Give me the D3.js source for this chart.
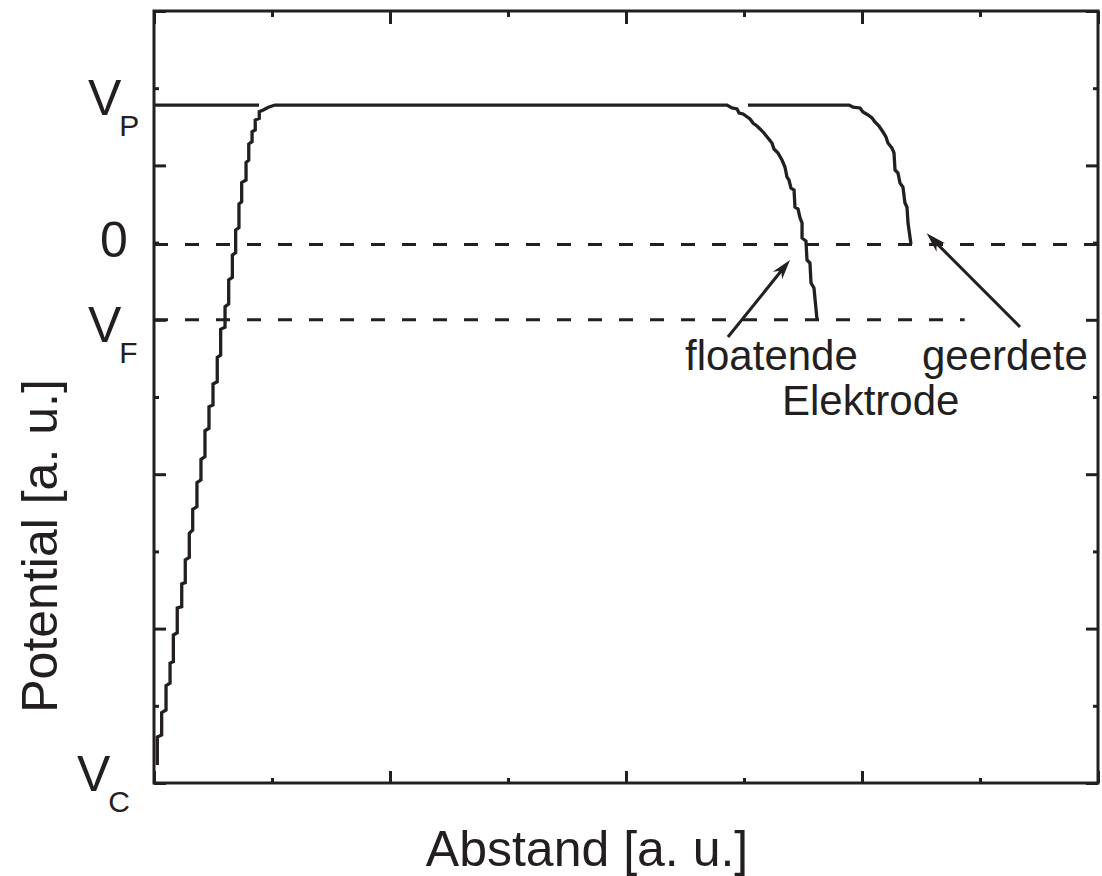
<!DOCTYPE html>
<html><head><meta charset="utf-8">
<script src="https://cdn.jsdelivr.net/npm/d3@7"></script>
<style>body{margin:0;background:#fff} svg{display:block}</style>
</head><body><svg id="c" width="1102" height="876"></svg>
<script>
// ---------- data (arbitrary units) ----------
const xTickValues = [0, 1, 2, 3, 4, 5, 6, 7, 8];
const yTickValues = [0, 1, 2, 3, 4, 5, 6, 7, 8, 9, 10];

// plasma potential profile: rising sheath, plateau, floating electrode sheath
const profileX = [0.028,0.028,0.065,0.065,0.102,0.102,0.136,0.136,0.164,0.164,0.197,0.197,0.235,0.235,0.265,0.265,0.299,0.299,0.328,0.328,0.364,0.364,0.398,0.398,0.432,0.432,0.466,0.466,0.500,0.500,0.536,0.536,0.565,0.565,0.602,0.602,0.633,0.633,0.664,0.664,0.692,0.692,0.720,0.720,0.743,0.743,0.780,0.780,0.803,0.803,0.831,0.831,0.858,0.858,0.892,0.892,0.926,0.969,1.025,
  4.856,4.898,4.941,4.958,4.992,5.051,5.076,5.110,5.136,5.169,5.203,5.237,5.254,5.288,5.322,5.347,5.364,5.381,5.398,5.424,5.432,5.458,5.475,5.492,5.492,5.525,5.534,5.559,5.568,5.593,5.619];
const profileY = [0.233,0.596,0.622,0.911,0.946,1.260,1.295,1.554,1.571,1.917,1.947,2.267,2.284,2.578,2.595,2.889,2.924,3.234,3.277,3.545,3.579,3.890,3.925,4.193,4.227,4.563,4.595,4.874,4.896,5.168,5.198,5.514,5.544,5.877,5.903,6.170,6.205,6.516,6.550,6.839,6.869,7.163,7.193,7.500,7.530,7.776,7.811,8.035,8.070,8.277,8.307,8.437,8.458,8.588,8.610,8.696,8.718,8.753,8.782,
  8.782,8.744,8.731,8.679,8.666,8.601,8.549,8.510,8.472,8.420,8.355,8.290,8.212,8.161,8.070,7.979,7.850,7.811,7.707,7.681,7.461,7.435,7.319,7.254,7.060,7.021,6.775,6.736,6.477,6.412,6.000];

// grounded electrode sheath
const groundedX = [5.034,5.890,5.924,5.983,6.008,6.051,6.085,6.110,6.144,6.178,6.203,6.220,6.254,6.271,6.280,6.305,6.322,6.347,6.364,6.381,6.390,6.415];
const groundedY = [8.782,8.782,8.756,8.744,8.692,8.653,8.614,8.562,8.510,8.433,8.368,8.290,8.225,8.161,7.940,7.902,7.772,7.720,7.513,7.461,7.254,6.982];

// short plateau at the left edge
const plateauX = [0, 0.89];
const plateauY = [8.782, 8.782];

// dashed reference levels (0 and V_F)
const levelValues = [6.975, 6.0];
const levelEndX = [8, 6.87];

// y tick labels
const yLabelMain = ["V", "0", "V", "V"];
const yLabelSub = ["P", "", "F", "C"];
const yLabelValues = [8.782, 6.975, 6.0, 0.233];

// annotations
const annotationTexts = ["floatende", "Elektrode", "geerdete"];
const annotationX = [4.5, 5.322, 6.508];
const annotationY = [5.35, 4.767, 5.35];
const arrowFromX = [4.864, 7.339], arrowFromY = [5.777, 5.907];
const arrowToX = [5.390, 6.548], arrowToY = [6.775, 7.120];

const xTitle = "Abstand [a. u.]";
const yTitle = "Potential [a. u.]";

// ---------- layout ----------
const W = 1102, H = 876;
const m = {left: 154, top: 11, right: 4, bottom: 93};
const ink = "#231f20";
const font = "'Liberation Sans', Arial, Helvetica, sans-serif";

const svg = d3.select("#c");
const x = d3.scaleLinear().domain([0, 8]).range([m.left, W - m.right]);
const y = d3.scaleLinear().domain([0, 10]).range([H - m.bottom, m.top]);

const major = v => v % 2 === 0;
function addAxis(gen, transform, vals, size) {
  const g = svg.append("g").attr("transform", transform)
    .call(gen.tickValues(vals).tickSize(size).tickSizeOuter(0).tickFormat(""));
  g.select(".domain").remove();
  g.selectAll(".tick line").attr("stroke", ink).attr("stroke-width", 3);
}
const xMaj = xTickValues.filter(major), xMin = xTickValues.filter(v => !major(v));
const yMaj = yTickValues.filter(major), yMin = yTickValues.filter(v => !major(v));
addAxis(d3.axisBottom(x), `translate(0,${y(0)})`, xMaj, -12);
addAxis(d3.axisBottom(x), `translate(0,${y(0)})`, xMin, -5);
addAxis(d3.axisTop(x), `translate(0,${y(10)})`, xMaj, -13);
addAxis(d3.axisTop(x), `translate(0,${y(10)})`, xMin, -6);
addAxis(d3.axisLeft(y), `translate(${x(0)},0)`, yMaj, -12);
addAxis(d3.axisLeft(y), `translate(${x(0)},0)`, yMin, -5);
addAxis(d3.axisRight(y), `translate(${x(8)},0)`, yMaj, -12);
addAxis(d3.axisRight(y), `translate(${x(8)},0)`, yMin, -5);

// frame
svg.append("rect")
  .attr("x", x(0)).attr("y", y(10))
  .attr("width", x(8) - x(0)).attr("height", y(0) - y(10))
  .attr("fill", "none").attr("stroke", ink).attr("stroke-width", 3);

// dashed levels
svg.selectAll("line.level").data(levelValues).join("line")
  .attr("class", "level")
  .attr("x1", x(0)).attr("x2", (d, i) => x(levelEndX[i]))
  .attr("y1", d => y(d)).attr("y2", d => y(d))
  .attr("stroke", ink).attr("stroke-width", 3)
  .attr("stroke-dasharray", "14,17");

// curves
const line = d3.line().x(d => x(d[0])).y(d => y(d[1]));
const series = [
  d3.zip(plateauX, plateauY),
  d3.zip(profileX, profileY),
  d3.zip(groundedX, groundedY)
];
svg.selectAll("path.curve").data(series).join("path")
  .attr("class", "curve")
  .attr("d", line)
  .attr("fill", "none").attr("stroke", ink).attr("stroke-width", 3.3)
  .attr("stroke-linejoin", "miter");

// arrows
arrowFromX.forEach((fx, i) => {
  const x1 = x(fx), y1 = y(arrowFromY[i]), x2 = x(arrowToX[i]), y2 = y(arrowToY[i]);
  const ang = Math.atan2(y2 - y1, x2 - x1) * 180 / Math.PI;
  svg.append("line").attr("x1", x1).attr("y1", y1)
    .attr("x2", x2 - 10 * Math.cos(ang * Math.PI / 180)).attr("y2", y2 - 10 * Math.sin(ang * Math.PI / 180))
    .attr("stroke", ink).attr("stroke-width", 3);
  svg.append("path").attr("d", "M0,0 L-20,-6 L-14,0 L-20,6 Z")
    .attr("transform", `translate(${x2},${y2}) rotate(${ang})`)
    .attr("fill", ink);
});

// annotation text
svg.selectAll("text.ann").data(annotationTexts).join("text")
  .attr("class", "ann")
  .attr("x", (d, i) => x(annotationX[i])).attr("y", (d, i) => y(annotationY[i]))
  .attr("font-family", font).attr("font-size", 42).attr("fill", ink)
  .text(d => d);

// y tick labels (custom)
const labelLeft = [88, 100, 88, 77];
const labelShift = [10, 12.5, 22, 26];
yLabelMain.forEach((t, i) => {
  const tx = svg.append("text")
    .attr("x", labelLeft[i]).attr("y", y(yLabelValues[i]) + labelShift[i])
    .attr("font-family", font).attr("font-size", 50).attr("fill", ink);
  tx.append("tspan").text(t);
  if (yLabelSub[i]) tx.append("tspan").attr("dx", -2).attr("dy", 21)
    .attr("font-size", 30).text(yLabelSub[i]);
});

// axis titles
svg.append("text").attr("x", 587).attr("y", 866)
  .attr("text-anchor", "middle").attr("font-family", font).attr("font-size", 50).attr("fill", ink)
  .text(xTitle);
svg.append("text").attr("transform", "translate(57,546) rotate(-90)")
  .attr("text-anchor", "middle").attr("font-family", font).attr("font-size", 50).attr("fill", ink)
  .text(yTitle);
</script>
</body></html>
